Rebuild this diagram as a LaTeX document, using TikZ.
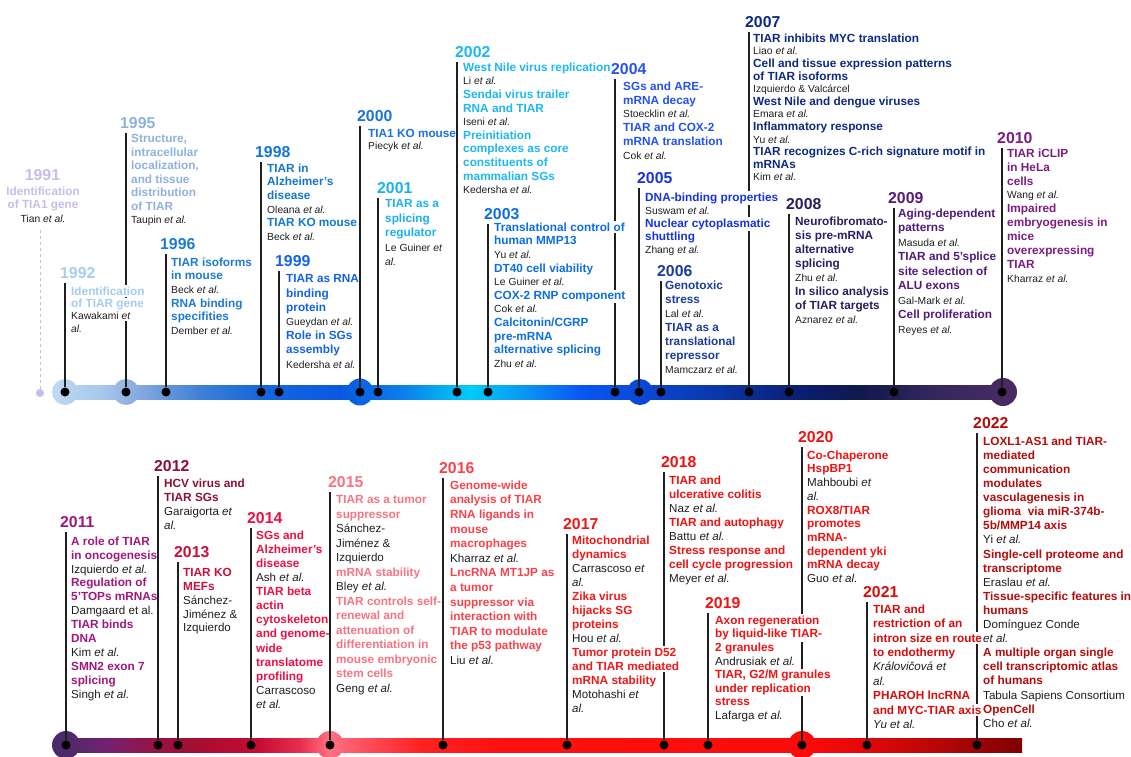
\documentclass[tikz,border=0pt]{standalone}
\usepackage{fontspec}
\setmainfont{Liberation Sans}
\usepackage{tikz}
\usetikzlibrary{calc}
\usepackage{xcolor}

% year colours
\definecolor{c1991}{HTML}{C4BEEA}
\definecolor{c1992}{HTML}{A6CDEE}
\definecolor{c1995}{HTML}{8FB1E0}
\definecolor{c1996}{HTML}{1C7AD2}
\definecolor{c1998}{HTML}{1476CE}
\definecolor{c1999}{HTML}{1262E6}
\definecolor{c2000}{HTML}{1A72DA}
\definecolor{c2001}{HTML}{1AB0F0}
\definecolor{c2002}{HTML}{1CB8F0}
\definecolor{c2003}{HTML}{0C6EE2}
\definecolor{c2004}{HTML}{2452F0}
\definecolor{c2005}{HTML}{1634E0}
\definecolor{c2006}{HTML}{1C3C9C}
\definecolor{c2007}{HTML}{0C2A82}
\definecolor{c2008}{HTML}{2C1C62}
\definecolor{c2009}{HTML}{521A7A}
\definecolor{c2010}{HTML}{7C1C82}
\definecolor{c2011}{HTML}{A0187C}
\definecolor{c2012}{HTML}{8C1032}
\definecolor{c2013}{HTML}{C8103C}
\definecolor{c2014}{HTML}{EA1042}
\definecolor{c2015}{HTML}{F87482}
\definecolor{c2016}{HTML}{F8424C}
\definecolor{c2017}{HTML}{F01818}
\definecolor{c2018}{HTML}{F01212}
\definecolor{c2019}{HTML}{F01212}
\definecolor{c2020}{HTML}{F01212}
\definecolor{c2021}{HTML}{D80C0C}
\definecolor{c2022}{HTML}{B40C0C}
\definecolor{authorgray}{HTML}{1E1E1E}

% bar colours
\definecolor{tbA}{HTML}{C4DCF2}
\definecolor{tbB}{HTML}{B8D4F0}
\definecolor{tbC}{HTML}{A8C8EC}
\definecolor{tbD}{HTML}{94B4E2}
\definecolor{tbE}{HTML}{6E9ADA}
\definecolor{tbF}{HTML}{3E80D6}
\definecolor{tbG}{HTML}{1468DC}
\definecolor{tbH}{HTML}{0A58E2}
\definecolor{tbI}{HTML}{0C7CEA}
\definecolor{tbJ}{HTML}{00CCF8}
\definecolor{tbK}{HTML}{0A90F2}
\definecolor{tbL}{HTML}{0858F0}
\definecolor{tbM}{HTML}{0A48D8}
\definecolor{tbN}{HTML}{0A36A8}
\definecolor{tbO}{HTML}{0A1E72}
\definecolor{tbP}{HTML}{10184C}
\definecolor{tbQ}{HTML}{34265E}
\definecolor{tbR}{HTML}{4A2C62}
\definecolor{bbA}{HTML}{4C2A6A}
\definecolor{bbC}{HTML}{782070}
\definecolor{bbD}{HTML}{941448}
\definecolor{bbE}{HTML}{A80C30}
\definecolor{bbF}{HTML}{C80C34}
\definecolor{bbG}{HTML}{E82E50}
\definecolor{bbH}{HTML}{FF7282}
\definecolor{bbI}{HTML}{FF5262}
\definecolor{bbJ}{HTML}{FF2222}
\definecolor{bbK}{HTML}{FF1010}
\definecolor{bbL}{HTML}{FF0A0A}
\definecolor{bbM}{HTML}{E00808}
\definecolor{bbN}{HTML}{B00606}
\definecolor{bbO}{HTML}{7E0000}

\pgfdeclarehorizontalshading{topbar}{100bp}{color(0bp)=(tbA); color(25bp)=(tbA);
  color(25.78bp)=(tbB); color(27.59bp)=(tbC); color(28.88bp)=(tbD); color(30.69bp)=(tbE);
  color(32.76bp)=(tbF); color(35.86bp)=(tbG); color(39.99bp)=(tbH); color(43.1bp)=(tbI);
  color(46.72bp)=(tbJ); color(49.82bp)=(tbK); color(52.4bp)=(tbL); color(55.51bp)=(tbM);
  color(59.64bp)=(tbN); color(63.78bp)=(tbO); color(66.88bp)=(tbP); color(70.5bp)=(tbQ);
  color(75bp)=(tbR); color(100bp)=(tbR)}
\pgfdeclarehorizontalshading{bottombar}{100bp}{color(0bp)=(bbA); color(25.7bp)=(bbA);
  color(27.99bp)=(bbC); color(30.05bp)=(bbD); color(32.63bp)=(bbE); color(35.72bp)=(bbF);
  color(37.78bp)=(bbG); color(39.33bp)=(bbH); color(40.88bp)=(bbI); color(43.97bp)=(bbJ);
  color(48.09bp)=(bbK); color(63.56bp)=(bbL); color(67.16bp)=(bbM); color(71.29bp)=(bbN);
  color(75bp)=(bbO); color(100bp)=(bbO)}

\setlength{\fboxsep}{1.5pt}
\newcommand{\authorsize}{10.3}
\newcommand{\au}[1]{{\normalfont\fontsize{\authorsize}{12}\selectfont\color{authorgray}#1}}
\newcommand{\ea}{\textit{et al.}}
\newcommand{\mask}[1]{\rlap{\smash{\hspace*{-\fboxsep}\colorbox{white}{#1}}}\phantom{#1}}

\begin{document}
\begin{tikzpicture}[x=1pt, y=-1pt,
        yearlabel/.style={font=\fontsize{15.8}{18}\selectfont\bfseries, anchor=base west, inner xsep=0pt, inner ysep=5pt},
        entry/.style={font=\fontsize{11.8}{#1}\selectfont\bfseries, align=left, anchor=north west, inner sep=0pt},
        entry/.default=13.6,
        authorsize/.code={\def\authorsize{#1}},
        stem/.style={draw=black!88, line width=1.3pt},
        dot/.style={circle, fill=black, inner sep=0pt, minimum size=9pt}
        ]

        \useasboundingbox (0,0) rectangle (1131,756);
        \clip (0,0) rectangle (1131,756);

        % Time bars
        \begin{scope}
            \clip (60,385) rectangle (1005,399);
            \shade[shading=topbar] (50,378) rectangle (1017,406);
        \end{scope}
        \foreach \hx/\hr in {65/13pt,126/13pt,360/13.5pt,640/13pt,1003/14pt} {
            \begin{scope}
                \clip (\hx,392) circle[radius=\hr];
                \shade[shading=topbar] (50,378) rectangle (1017,406);
            \end{scope}
        }
        \begin{scope}
            \clip (60,738) rectangle (1022,752);
            \shade[shading=bottombar] (52,730) rectangle (1022,760);
        \end{scope}
        \foreach \hx in {66,330,802} {
            \begin{scope}
                \clip (\hx,745) circle[radius=14pt];
                \shade[shading=bottombar] (52,730) rectangle (1022,760);
            \end{scope}
        }

        % Dots
        \node[circle, fill=c1991, inner sep=0pt, minimum size=8pt] (dot1991) at (40,393) {};
        \foreach \yr/\xx in {1992/65,1995/126,1996/166,1998/261,1999/279,2000/360,2001/378,2002/457,2003/488,2004/615,2005/639,2006/661,2007/749,2008/789,2009/894,2010/1002}
            \node[dot] (dot\yr) at (\xx,392) {};
        \foreach \yr/\xx in {2011/66,2012/158,2013/178,2014/251,2015/330,2016/443,2017/567,2018/664,2019/708,2020/802,2021/867,2022/977}
            \node[dot] (dot\yr) at (\xx,745) {};

        % Year labels
        \node[yearlabel, anchor=base, text=c1991] (year1991) at (42.5,180) {1991};
        \foreach \yr/\xx/\yy in {1992/60/278, 1995/120/128, 1996/160/249, 1998/255/157, 1999/275/266, 2000/357/121, 2001/377/193, 2002/455/57, 2003/484/219, 2004/611/74, 2005/637/183, 2006/657/276, 2007/745/27, 2008/786/209, 2009/888/203, 2010/997/143, 2011/60/527, 2012/154/471, 2013/174/557, 2014/247/523, 2015/328/487, 2016/439/473, 2017/563/529, 2018/661/467, 2019/705/608, 2020/798/442, 2021/863/597, 2022/973/428}
            \node[yearlabel, text=c\yr] (year\yr) at (\xx,\yy) {\yr};

        % Stems
        \coordinate (top1991) at (40,230);
        \draw[c1991, dashed, line width=0.9pt] (top1991) -- (dot1991);
        \foreach \yr in {1992,1995,1996,1998,1999,2000,2001,2002,2003,2004,2005,2006,2007,2008,2009,2010,2011,2012,2013,2014,2015,2016,2017,2018,2019,2020,2021,2022}
            \draw[stem] (year\yr.south -| dot\yr) -- (dot\yr);

        % Entries, first half
        \node[entry=13.5, align=center, anchor=north, text=c1991] (text1991) at (43,186.5) {Identification\\of TIA1 gene\\\au{Tian \ea}};
        \node[entry=12.3, text=c1992] (text1992) at (71,286.5) {\mask{Identification}\\\mask{of TIAR gene}\\\mask{\au{Kawakami \textit{et}}}\\\au{\textit{al.}}};
        \node[entry=13.5, text=c1995] (text1995) at (131,134.5) {Structure,\\intracellular\\localization,\\and tissue\\distribution\\of TIAR\\\au{Taupin \ea}};
        \node[entry=13.6, text=c1996] (text1996) at (171,257.5) {TIAR isoforms\\in mouse\\\au{Beck \ea}\\RNA binding\\specifities\\\au{Dember \ea}};
        \node[entry=13.6, text=c1998] (text1998) at (267,163.5) {TIAR in\\Alzheimer’s\\disease\\\au{Oleana \ea}\\TIAR KO mouse\\\au{Beck \ea}};
        \node[entry=14.2, text=c1999] (text1999) at (286,274.5) {TIAR as RNA\\binding\\protein\\\au{Gueydan \ea}\\Role in SGs\\assembly\\\au{Kedersha \ea}};
        \node[entry=12, text=c2000] (text2000) at (368,129.5) {TIA1 KO mouse\\\au{Piecyk \ea}};
        \node[entry=14.5, text=c2001] (text2001) at (385,199.5) {TIAR as a\\splicing\\regulator\\\au{Le Guiner \textit{et}}\\\au{\textit{al.}}};
        \node[entry=13.6, text=c2002] (text2002) at (463,62.5) {West Nile virus replication\\\au{Li \ea}\\Sendai virus trailer\\RNA and TIAR\\\au{Iseni \ea}\\Preinitiation\\complexes as core\\constituents of\\mammalian SGs\\\au{Kedersha \ea}};
        \node[entry=13.6, text=c2003] (text2003) at (494,222.5) {\mask{Translational control of}\\human MMP13\\\au{Yu \ea}\\DT40 cell viability\\\au{Le Guiner \ea}\\\mask{COX-2 RNP component}\\\au{Cok \ea}\\Calcitonin/CGRP\\pre-mRNA\\alternative splicing\\\au{Zhu \ea}};
        \node[entry=13.8, text=c2004] (text2004) at (623,81.5) {SGs and ARE-\\mRNA decay\\\au{Stoecklin \ea}\\TIAR and COX-2\\mRNA translation\\\au{Cok \ea}};
        \node[entry=13, text=c2005] (text2005) at (645,192.5) {\mask{DNA-binding properties}\\\au{Suswam \ea}\\\mask{Nuclear cytoplasmatic}\\shuttling\\\au{Zhang \ea}};
        \node[entry=14, text=c2006] (text2006) at (665,280.5) {Genotoxic\\stress\\\au{Lal \ea}\\TIAR as a\\translational\\repressor\\\au{Mamczarz \ea}};
        \node[entry=12.6, text=c2007] (text2007) at (753,33.5) {TIAR inhibits MYC translation\\\au{Liao \ea}\\Cell and tissue expression patterns\\of TIAR isoforms\\\au{Izquierdo \& Valcárcel}\\West Nile and dengue viruses\\\au{Emara \ea}\\Inflammatory response\\\au{Yu \ea}\\TIAR recognizes C-rich signature motif in\\mRNAs\\\au{Kim \ea}};
        \node[entry=14, text=c2008] (text2008) at (795,216.5) {Neurofibromato-\\sis pre-mRNA\\alternative\\splicing\\\au{Zhu \ea}\\In silico analysis\\of TIAR targets\\\au{Aznarez \ea}};
        \node[entry=14.5, text=c2009] (text2009) at (898,208.5) {Aging-dependent\\patterns\\\au{Masuda \ea}\\TIAR and 5’splice\\site selection of\\ALU exons\\\au{Gal-Mark \ea}\\Cell proliferation\\\au{Reyes \ea}};
        \node[entry=13.9, text=c2010] (text2010) at (1007,148.5) {TIAR iCLIP\\in HeLa\\cells\\\au{Wang \ea}\\Impaired\\embryogenesis in\\mice\\overexpressing\\TIAR\\\au{Kharraz \ea}};

        % Entries, second half
        \begin{scope}[every node/.append style={authorsize=11.6}]
        \node[entry=13.9, text=c2011] (text2011) at (71,536.5) {A role of TIAR\\in oncogenesis\\\au{Izquierdo \ea}\\Regulation of\\5’TOPs mRNAs\\\au{Damgaard et al.}\\TIAR binds\\DNA\\\au{Kim \ea}\\SMN2 exon 7\\splicing\\\au{Singh \ea}};
        \node[entry=14, text=c2012] (text2012) at (164,478.5) {HCV virus and\\TIAR SGs\\\au{Garaigorta \textit{et}}\\\au{\textit{al.}}};
        \node[entry=13.75, text=c2013] (text2013) at (183,568.5) {TIAR KO\\MEFs\\\au{Sánchez-}\\\au{Jiménez \&}\\\au{Izquierdo}};
        \node[entry=14.1, text=c2014] (text2014) at (256,530.5) {SGs and\\Alzheimer’s\\disease\\\au{Ash \ea}\\TIAR beta\\actin\\cytoskeleton\\and genome-\\wide\\translatome\\profiling\\\au{Carrascoso}\\\au{\ea}};
        \node[entry=14.5, text=c2015] (text2015) at (336,495.5) {TIAR as a tumor\\suppressor\\\au{Sánchez-}\\\au{Jiménez \&}\\\au{Izquierdo}\\mRNA stability\\\au{Bley \ea}\\TIAR controls self-\\renewal and\\attenuation of\\differentiation in\\mouse embryonic\\stem cells\\\au{Geng \ea}};
        \node[entry=14.6, text=c2016] (text2016) at (450,480.5) {Genome-wide\\analysis of TIAR\\RNA ligands in\\mouse\\macrophages\\\au{Kharraz \ea}\\LncRNA MT1JP as\\a tumor\\suppressor via\\interaction with\\TIAR to modulate\\the p53 pathway\\\au{Liu \ea}};
        \node[entry=14, text=c2017] (text2017) at (572,535.5) {Mitochondrial\\dynamics\\\au{Carrascoso \textit{et}}\\\au{\textit{al.}}\\Zika virus\\hijacks SG\\proteins\\\au{Hou \ea}\\\mask{Tumor protein D52}\\\mask{and TIAR mediated}\\mRNA stability\\\au{Motohashi \textit{et}}\\\au{\textit{al.}}};
        \node[entry=14, text=c2018] (text2018) at (669,475.5) {TIAR and\\ulcerative colitis\\\au{Naz \ea}\\TIAR and autophagy\\\au{Battu \ea}\\Stress response and\\cell cycle progression\\\au{Meyer \ea}};
        \node[entry=13.6, text=c2019] (text2019) at (715,615.5) {\mask{Axon regeneration}\\\mask{by liquid-like TIAR-}\\2 granules\\\au{Andrusiak \ea}\\\mask{TIAR, G2/M granules}\\\mask{under replication}\\stress\\\au{Lafarga \ea}};
        \node[entry=13.7, text=c2020] (text2020) at (807,450.5) {Co-Chaperone\\HspBP1\\\au{Mahboubi \textit{et}}\\\au{\textit{al.}}\\ROX8/TIAR\\promotes\\mRNA-\\dependent yki\\mRNA decay\\\au{Guo \ea}};
        \node[entry=14.4, text=c2021] (text2021) at (873,604.5) {TIAR and\\restriction of an\\\mask{intron size en route}\\to endothermy\\\au{\textit{Královičová et}}\\\au{\textit{al.}}\\PHAROH lncRNA\\\mask{and MYC-TIAR axis}\\\au{\textit{Yu et al.}}};
        \node[entry=14.1, text=c2022] (text2022) at (983,436.5) {LOXL1-AS1 and TIAR-\\mediated\\communication\\modulates\\vasculagenesis in\\glioma\ \ via miR-374b-\\5b/MMP14 axis\\\au{Yi \ea}\\Single-cell proteome and\\transcriptome\\\au{Eraslau \ea}\\Tissue-specific features in\\humans\\\au{Domínguez Conde}\\\au{\ea}\\A multiple organ single\\cell transcriptomic atlas\\of humans\\\au{Tabula Sapiens Consortium}\\OpenCell\\\au{Cho \ea}};
        \end{scope}

    \end{tikzpicture}
\end{document}
